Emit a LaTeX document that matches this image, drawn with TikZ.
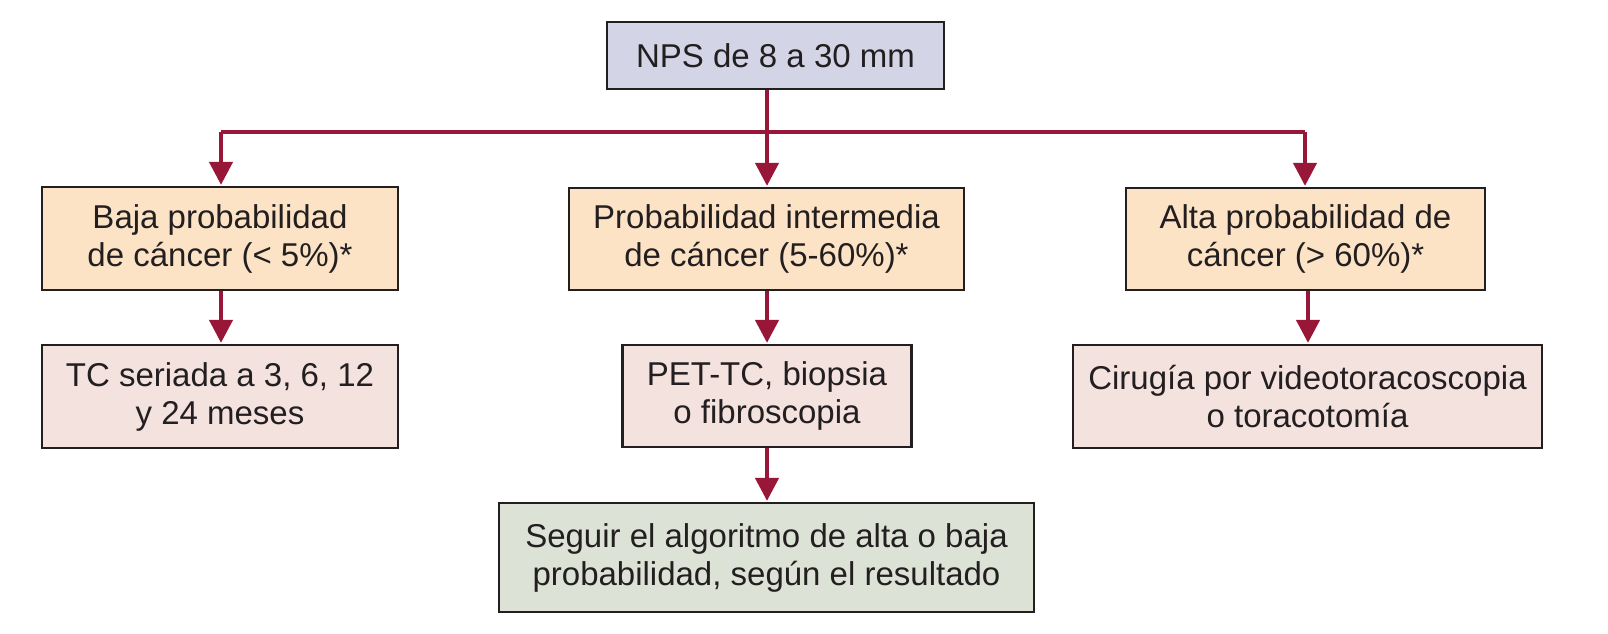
\documentclass[tikz,border=0pt]{standalone}
\usepackage{fontspec}
\setmainfont{Liberation Sans}
\usetikzlibrary{arrows.meta}
\definecolor{topfill}{HTML}{D3D5E7}
\definecolor{probfill}{HTML}{FDE3C6}
\definecolor{actfill}{HTML}{F4E2DF}
\definecolor{segfill}{HTML}{DCE2D5}
\definecolor{arrcol}{HTML}{981638}
\definecolor{txt}{HTML}{231F20}
\tikzset{
  box/.style={draw=txt, line width=2.2pt, rectangle, align=center, text=txt,
    font=\fontsize{33}{38}\selectfont, inner sep=0pt},
  conn/.style={draw=arrcol, line width=4.3pt},
  arr/.style={conn, -{Triangle[width=23pt,length=23pt]}, shorten >=1pt},
}
\begin{document}
\begin{tikzpicture}[x=1pt,y=-1pt]
\useasboundingbox (0,0) rectangle (1608,633);
\node[box, fill=topfill, minimum width=337pt, minimum height=67pt] (top) at (775.5,55.5) {NPS de 8 a 30 mm};
\node[box, fill=probfill, minimum width=356pt, minimum height=103pt] (lowp) at (220,238.5) {Baja probabilidad\\de cáncer (< 5\%)*};
\node[box, fill=probfill, minimum width=395pt, minimum height=102pt] (midp) at (766.5,239) {Probabilidad intermedia\\de cáncer (5-60\%)*};
\node[box, fill=probfill, minimum width=359pt, minimum height=102pt] (highp) at (1305.5,239) {Alta probabilidad de\\cáncer (> 60\%)*};
\node[box, fill=actfill, minimum width=356pt, minimum height=103pt] (tc) at (220,396.5) {TC seriada a 3, 6, 12\\y 24 meses};
\node[box, fill=actfill, minimum width=289pt, minimum height=102pt] (pet) at (767,396) {PET-TC, biopsia\\o fibroscopia};
\node[box, fill=actfill, minimum width=469pt, minimum height=103pt] (cir) at (1307.5,396.5) {Cirugía por videotoracoscopia\\o toracotomía};
\node[box, fill=segfill, minimum width=535pt, minimum height=109pt] (seg) at (766.5,557.5) {Seguir el algoritmo de alta o baja\\probabilidad, según el resultado};
\coordinate (j) at (767,132);
\coordinate (jl) at (221,132);
\coordinate (jr) at (1305,132);
\coordinate (kr) at (1308,132);
\draw[conn] (jl) -- (jr);
\draw[arr] (top.south -| j) -- (midp.north -| j);
\draw[arr] (jl) -- (lowp.north -| jl);
\draw[arr] (jr) -- (highp.north -| jr);
\draw[arr] (lowp.south -| jl) -- (tc.north -| jl);
\draw[arr] (midp.south -| j) -- (pet.north -| j);
\draw[arr] (pet.south -| j) -- (seg.north -| j);
\draw[arr] (highp.south -| kr) -- (cir.north -| kr);
\end{tikzpicture}
\end{document}
